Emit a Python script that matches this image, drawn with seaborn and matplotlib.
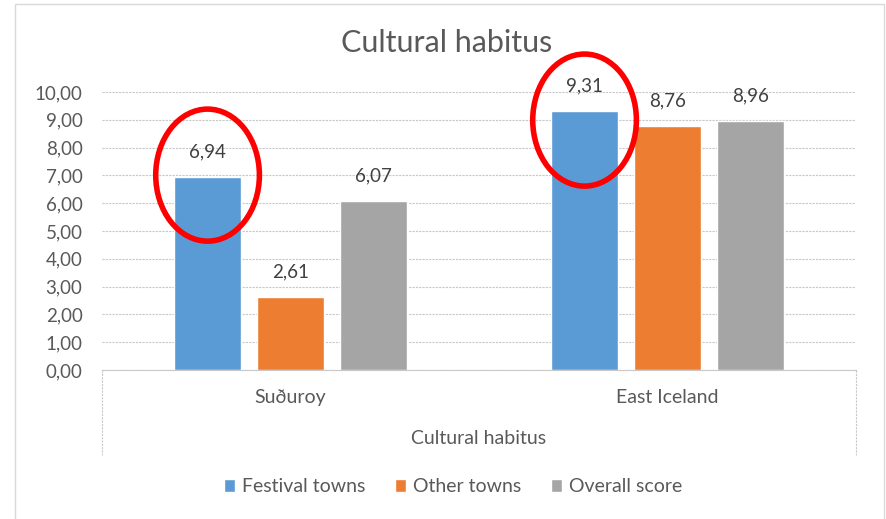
import pandas as pd
import matplotlib
matplotlib.use("Agg")
import matplotlib.pyplot as plt
from matplotlib.patches import Ellipse, Rectangle
from matplotlib.ticker import FuncFormatter
import seaborn as sns

regions = ["Suðuroy", "East Iceland"]
series = ["Festival towns", "Other towns", "Overall score"]
festival = [6.94, 9.31]
other = [2.61, 8.76]
overall = [6.07, 8.96]
colors = ["#5B9BD5", "#ED7D31", "#A5A5A5"]

df = pd.DataFrame({
    "region": regions * 3,
    "group": [s for s in series for _ in regions],
    "score": festival + other + overall,
})

sns.set_style("white")
plt.rcParams["font.family"] = ["Lato", "DejaVu Sans"]
grey_txt = "#595959"
grid_c = "#C8C8C8"

fig = plt.figure(figsize=(8.86, 5.19), dpi=100)
ax = fig.add_axes([102 / 886, 1 - 370 / 519, 754 / 886, 278 / 519])

sns.barplot(data=df, x="region", y="score", hue="group", order=regions,
            hue_order=series, palette=colors, width=0.66, gap=0.2,
            saturation=1, ax=ax, legend=True)

ax.set_ylim(0, 10)
ax.set_xlim(-0.5, 1.5)
ax.set_yticks(range(0, 11))
ax.yaxis.set_major_formatter(FuncFormatter(lambda v, p: f"{v:.2f}".replace(".", ",")))
ax.yaxis.grid(True, color=grid_c, linestyle=(0, (2, 1)), linewidth=0.8)
ax.set_axisbelow(True)
for s in ["top", "right", "left"]:
    ax.spines[s].set_visible(False)
ax.spines["bottom"].set_color(grid_c)
ax.spines["bottom"].set_linestyle((0, (2, 1)))
ax.spines["bottom"].set_linewidth(0.8)
ax.tick_params(axis="y", length=0, pad=14, labelsize=13.5, labelcolor=grey_txt)
ax.tick_params(axis="x", length=0, pad=14, labelsize=14, labelcolor=grey_txt)
ax.set_ylabel("")
ax.set_xlabel("Cultural habitus", fontsize=14, color=grey_txt)
ax.xaxis.set_label_coords(0.5, -0.215)

# category box edges below the axis
for xe in [0, 1]:
    ax.plot([xe, xe], [0, -0.305], transform=ax.transAxes, clip_on=False,
            color=grid_c, linestyle=(0, (2, 1)), linewidth=0.8)

for cont in ax.containers:
    ax.bar_label(cont, labels=[f"{b.get_height():.2f}".replace(".", ",") for b in cont],
                 padding=12, fontsize=13.5, color="#404040")

# red highlight ellipses around festival towns bars
offsets = [0.07, -0.32]
for bar, dy in zip(ax.containers[0], offsets):
    cx = bar.get_x() + bar.get_width() / 2
    cy = bar.get_height() + dy
    ax.add_patch(Ellipse((cx, cy), 0.275, 4.75, fill=False, edgecolor="#FF0000",
                         linewidth=4, clip_on=False, zorder=5))

handles, labels = ax.get_legend_handles_labels()
ax.get_legend().remove()
fig.legend(handles, labels, loc="center", bbox_to_anchor=(453 / 886, 1 - 487 / 519),
           ncol=3, frameon=False, fontsize=14, labelcolor=grey_txt,
           handlelength=0.6, handleheight=0.6, handletextpad=0.35, columnspacing=1.5)

fig.text(447 / 886, 1 - 43 / 519, "Cultural habitus", ha="center", va="center",
         fontsize=22, color=grey_txt)

fig.patches.append(Rectangle((15 / 886, -0.01), 869 / 886, 1 - 4 / 519 + 0.01,
                             transform=fig.transFigure, fill=False,
                             edgecolor="#D9D9D9", linewidth=1))

fig.savefig("out.png", dpi=100)
